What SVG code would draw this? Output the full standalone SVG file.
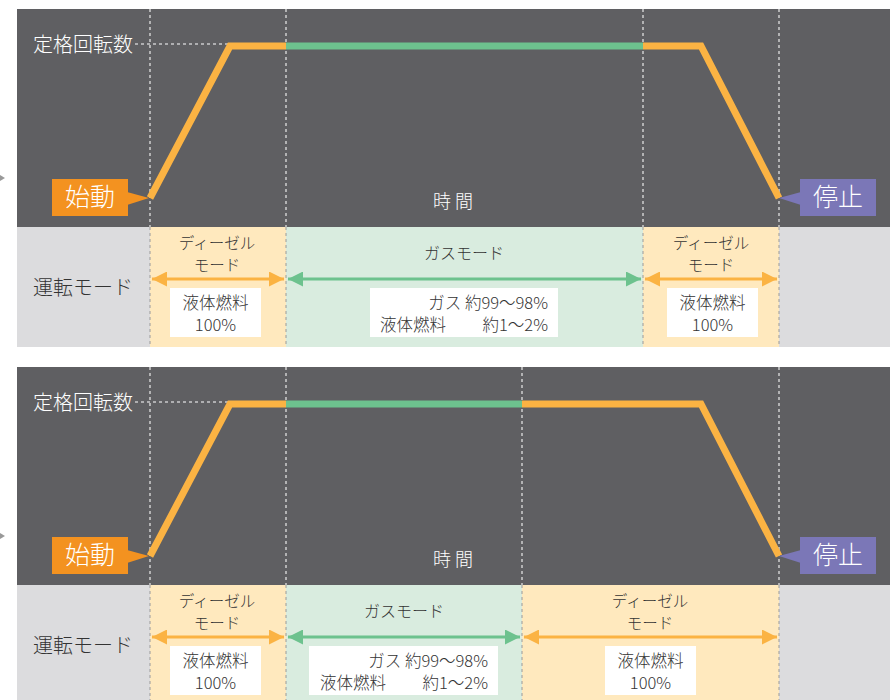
<svg xmlns="http://www.w3.org/2000/svg" width="890" height="700" viewBox="0 0 890 700">
<defs>
<style>
.dark{fill:#5f5f62}
.band{fill:#dcdcde}
.ol{fill:#ffe9be}
.gl{fill:#d9ecdf}
.t{font-family:"Noto Sans CJK JP","Noto Sans",sans-serif;font-weight:300}
.w{fill:#fff}
.k{fill:#333}
.vd{stroke:#d0d0d0;stroke-width:1.5;stroke-dasharray:3 3;fill:none}
.vb{stroke:#9a9a9a;stroke-width:1;stroke-dasharray:3 3;fill:none}
.hd{stroke:#fff;stroke-width:1.2;stroke-dasharray:3 3;fill:none}
.ocurve{stroke:#fbb343;stroke-width:7;fill:none;stroke-linejoin:miter}
.gcurve{stroke:#6dc28e;stroke-width:7;fill:none}
.oarr{stroke:#fbb343;stroke-width:3;fill:none}
.garr{stroke:#6dc28e;stroke-width:3;fill:none}
.box{fill:#fff}
</style>
<marker id="ao" viewBox="0 0 10 10" refX="10" refY="5" markerWidth="5" markerHeight="5" orient="auto-start-reverse" markerUnits="strokeWidth"><path d="M0,0 L10,5 L0,10 Z" fill="#fbb343"/></marker>
<marker id="ag" viewBox="0 0 10 10" refX="10" refY="5" markerWidth="5" markerHeight="5" orient="auto-start-reverse" markerUnits="strokeWidth"><path d="M0,0 L10,5 L0,10 Z" fill="#6dc28e"/></marker>
</defs>
<rect width="890" height="700" fill="#fff"/>

<!-- Panel 1 -->
<g id="panel1">
<rect class="dark" x="17" y="9" width="873" height="218"/>
<rect class="band" x="17" y="227" width="873" height="120"/>
<rect class="ol" x="150" y="227" width="136" height="120"/>
<rect class="gl" x="286" y="227" width="357" height="120"/>
<rect class="ol" x="643" y="227" width="136" height="120"/>
<path class="vd" d="M150,9V227M286,9V227M643,9V227M779,9V227"/>
<path class="vb" d="M150,227V347M286,227V347M643,227V347M779,227V347"/>
<path class="hd" d="M135,44H229"/>
<polygon points="0,175 5,178 0,181" fill="#999"/>
<text class="t w" x="33" y="52" font-size="20">定格回転数</text>
<text class="t w" x="453" y="208" font-size="18" text-anchor="middle">時 間</text>
<text class="t k" x="33" y="295" font-size="20">運転モード</text>
</g>
<g id="curve1">
<polyline class="ocurve" points="150,198 230,46 286,46"/>
<line class="gcurve" x1="286" y1="46" x2="643" y2="46"/>
<polyline class="ocurve" points="643,46 701,46 779,198"/>
</g>
<g id="start1">
<rect x="52" y="179" width="76" height="37" fill="#f39220"/>
<polygon points="127,192 149,198 127,205" fill="#f39220"/>
<text class="t w" x="90" y="206" font-size="25" text-anchor="middle">始動</text>
</g>
<g id="stop1">
<rect x="800" y="179" width="76" height="37" fill="#7b77b7"/>
<polygon points="801,192 779,198 801,205" fill="#7b77b7"/>
<text class="t w" x="838" y="206" font-size="25" text-anchor="middle">停止</text>
</g>
<g id="diesel1a">
<text class="t k" x="217" y="249" font-size="15.5" text-anchor="middle">ディーゼル</text>
<text class="t k" x="217" y="271" font-size="15.5" text-anchor="middle">モード</text>
<rect class="box" x="170" y="288" width="91" height="49"/>
<text class="t k" x="215.5" y="309" font-size="16.5" text-anchor="middle">液体燃料</text>
<text class="t k" x="215.5" y="331" font-size="16.5" text-anchor="middle">100%</text>
</g>
<g id="gas1">
<text class="t k" x="464" y="259" font-size="16" text-anchor="middle">ガスモード</text>
<rect class="box" x="370" y="288" width="188" height="49"/>
<text class="t k" x="548" y="309" font-size="16.5" text-anchor="end">ガス 約99〜98%</text>
<text class="t k" font-size="16.5"><tspan x="380" y="331">液体燃料</tspan><tspan x="548" y="331" text-anchor="end">約1〜2%</tspan></text>
</g>
<g id="diesel1b">
<text class="t k" x="711" y="249" font-size="15.5" text-anchor="middle">ディーゼル</text>
<text class="t k" x="711" y="271" font-size="15.5" text-anchor="middle">モード</text>
<rect class="box" x="667" y="288" width="91" height="49"/>
<text class="t k" x="712.5" y="309" font-size="16.5" text-anchor="middle">液体燃料</text>
<text class="t k" x="712.5" y="331" font-size="16.5" text-anchor="middle">100%</text>
</g>

<!-- Panel 2 -->
<g id="panel2">
<rect class="dark" x="17" y="367" width="873" height="218"/>
<rect class="band" x="17" y="585" width="873" height="115"/>
<rect class="ol" x="150" y="585" width="136" height="115"/>
<rect class="gl" x="286" y="585" width="236" height="115"/>
<rect class="ol" x="522" y="585" width="257" height="115"/>
<path class="vd" d="M150,367V585M286,367V585M522,367V585M779,367V585"/>
<path class="vb" d="M150,585V700M286,585V700M522,585V700M779,585V700"/>
<path class="hd" d="M135,402H229"/>
<polygon points="0,533 5,536 0,539" fill="#999"/>
<text class="t w" x="33" y="410" font-size="20">定格回転数</text>
<text class="t w" x="453" y="566" font-size="18" text-anchor="middle">時 間</text>
<text class="t k" x="33" y="653" font-size="20">運転モード</text>
</g>
<g id="curve2">
<polyline class="ocurve" points="150,556 230,404 286,404"/>
<line class="gcurve" x1="286" y1="404" x2="522" y2="404"/>
<polyline class="ocurve" points="522,404 701,404 779,556"/>
</g>
<g id="start2">
<rect x="52" y="537" width="76" height="37" fill="#f39220"/>
<polygon points="127,550 149,556 127,563" fill="#f39220"/>
<text class="t w" x="90" y="564" font-size="25" text-anchor="middle">始動</text>
</g>
<g id="stop2">
<rect x="800" y="537" width="76" height="37" fill="#7b77b7"/>
<polygon points="801,550 779,556 801,563" fill="#7b77b7"/>
<text class="t w" x="838" y="564" font-size="25" text-anchor="middle">停止</text>
</g>
<g id="diesel2a">
<text class="t k" x="217" y="607" font-size="15.5" text-anchor="middle">ディーゼル</text>
<text class="t k" x="217" y="629" font-size="15.5" text-anchor="middle">モード</text>
<rect class="box" x="170" y="646" width="91" height="49"/>
<text class="t k" x="215.5" y="667" font-size="16.5" text-anchor="middle">液体燃料</text>
<text class="t k" x="215.5" y="689" font-size="16.5" text-anchor="middle">100%</text>
</g>
<g id="gas2">
<text class="t k" x="404" y="617" font-size="16" text-anchor="middle">ガスモード</text>
<rect class="box" x="309" y="646" width="189" height="49"/>
<text class="t k" x="488" y="667" font-size="16.5" text-anchor="end">ガス 約99〜98%</text>
<text class="t k" font-size="16.5"><tspan x="320" y="689">液体燃料</tspan><tspan x="488" y="689" text-anchor="end">約1〜2%</tspan></text>
</g>
<g id="diesel2b">
<text class="t k" x="650" y="607" font-size="15.5" text-anchor="middle">ディーゼル</text>
<text class="t k" x="650" y="629" font-size="15.5" text-anchor="middle">モード</text>
<rect class="box" x="605" y="646" width="91" height="49"/>
<text class="t k" x="650.5" y="667" font-size="16.5" text-anchor="middle">液体燃料</text>
<text class="t k" x="650.5" y="689" font-size="16.5" text-anchor="middle">100%</text>
</g>

<g id="connectors">
<line class="oarr" x1="152" y1="279" x2="284" y2="279" marker-start="url(#ao)" marker-end="url(#ao)"/>
<line class="garr" x1="288" y1="279" x2="641" y2="279" marker-start="url(#ag)" marker-end="url(#ag)"/>
<line class="oarr" x1="645" y1="279" x2="777" y2="279" marker-start="url(#ao)" marker-end="url(#ao)"/>
<line class="oarr" x1="152" y1="637" x2="284" y2="637" marker-start="url(#ao)" marker-end="url(#ao)"/>
<line class="garr" x1="288" y1="637" x2="520" y2="637" marker-start="url(#ag)" marker-end="url(#ag)"/>
<line class="oarr" x1="524" y1="637" x2="777" y2="637" marker-start="url(#ao)" marker-end="url(#ao)"/>
</g>
</svg>
